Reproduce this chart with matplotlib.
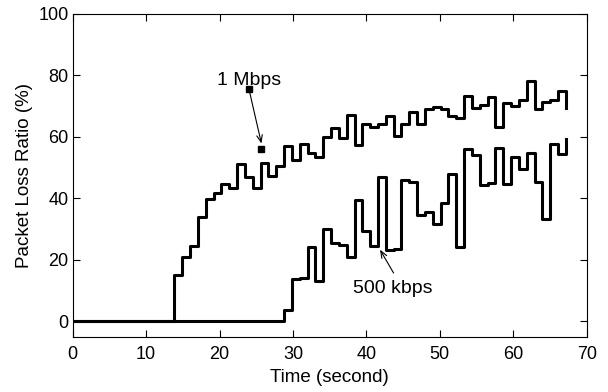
import numpy as np
import matplotlib
matplotlib.use("Agg")
import matplotlib.pyplot as plt

plt.rcParams["font.family"] = ["Liberation Sans", "DejaVu Sans"]

# sampling interval of the loss measurements (seconds)
dt = 1.066

loss_1mbps = [0.0] * 13 + [
    15.0, 20.9, 24.6, 33.9, 39.8, 41.6, 44.6, 43.5, 51.1, 46.9,
    43.2, 51.4, 47.4, 50.5, 57.1, 52.6, 57.8, 54.6, 53.3, 60.0,
    62.9, 59.7, 67.0, 57.2, 64.3, 63.2, 64.1, 66.9, 60.4, 64.3,
    68.0, 64.3, 68.9, 69.6, 69.1, 66.9, 66.1, 73.2, 69.5, 70.2,
    73.0, 63.2, 71.0, 69.9, 71.9, 78.2, 68.9, 71.2, 72.1, 74.9,
    69.5]

loss_500kbps = [0.0] * 27 + [
    3.8, 13.9, 14.2, 24.1, 13.0, 29.9, 25.4, 24.9, 20.8, 39.5,
    29.4, 24.6, 46.8, 23.2, 23.5, 45.9, 45.4, 34.6, 35.6, 31.6,
    38.4, 47.9, 24.3, 56.1, 54.2, 44.2, 44.9, 56.3, 44.6, 53.3,
    49.4, 54.6, 45.3, 33.3, 57.8, 54.4, 59.2]

t = np.arange(len(loss_1mbps)) * dt

fig = plt.figure(figsize=(6.08, 3.92), dpi=100)
ax = fig.add_axes([0.1196, 0.141, 0.8454, 0.824])

ax.step(t, loss_1mbps, where="post", color="black", lw=2.2)
ax.step(t, loss_500kbps, where="post", color="black", lw=2.2)

# 1 Mbps annotation (arrow with square end handles)
ax.annotate("", xy=(25.7, 57.8), xytext=(24.0, 75.5),
            arrowprops=dict(arrowstyle="->,head_length=0.5,head_width=0.2",
                            color="black", lw=0.8, shrinkA=0, shrinkB=0))
ax.plot([24.0, 25.7], [75.5, 56.0], ls="none", marker="s", ms=4, color="black")
ax.text(24.0, 76.9, "1 Mbps", ha="center", va="baseline", fontsize=14)

# 500 kbps annotation
ax.annotate("", xy=(41.85, 23.3), xytext=(43.7, 15.7),
            arrowprops=dict(arrowstyle="->,head_length=0.5,head_width=0.2",
                            color="black", lw=0.8, shrinkA=0, shrinkB=0))
ax.text(43.55, 9.2, "500 kbps", ha="center", va="baseline", fontsize=14)

ax.set_xlim(0, 70)
ax.set_ylim(-5, 100)
ax.set_xticks(range(0, 71, 10))
ax.set_yticks(range(0, 101, 20))
ax.tick_params(direction="in", top=True, right=True, length=5, width=0.8,
               labelsize=13)
ax.tick_params(axis="x", pad=7)
ax.tick_params(axis="y", pad=3)
for s in ax.spines.values():
    s.set_linewidth(0.8)

ax.set_xlabel("Time (second)", fontsize=13.5, labelpad=4)
ax.set_ylabel("Packet Loss Ratio (%)", fontsize=13.5, labelpad=4)

fig.savefig("out.png", dpi=100)
